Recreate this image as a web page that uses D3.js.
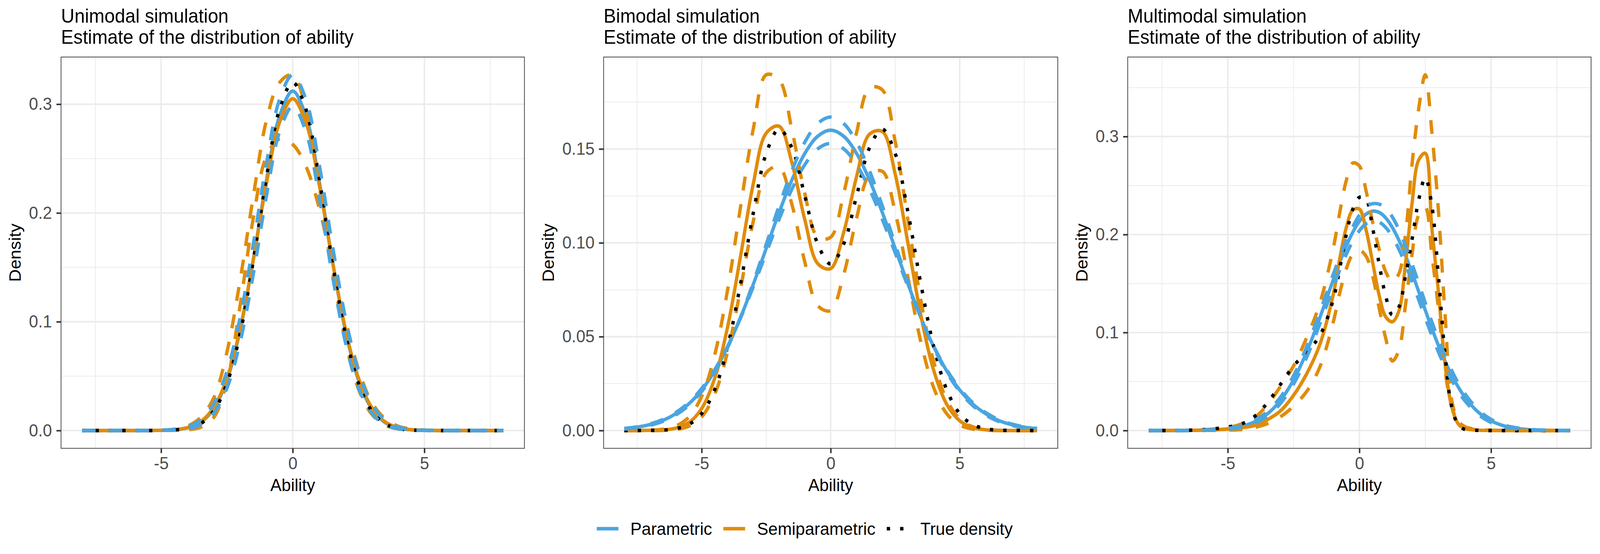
<!DOCTYPE html>
<html>
<head>
<meta charset="utf-8">
<script src="https://cdn.jsdelivr.net/npm/d3@7"></script>
<style>
  html, body { margin: 0; padding: 0; background: #fff; overflow: hidden; }
  svg { display: block; width: 100vw; height: 100vh; }
  text { font-family: "Liberation Sans", Arial, Helvetica, sans-serif; }
</style>
</head>
<body>
<svg id="chart" viewBox="0 0 4256 1418" preserveAspectRatio="none"></svg>
<script>
// ability grids (x values the densities were evaluated at)
abilityGrid = [-8, -7.5, -7, -6.5, -6, -5.5, -5, -4.5, -4, -3.5, -3, -2.5, -2, -1.5, -1, -0.5, 0,
  0.5, 1, 1.5, 2, 2.5, 3, 3.5, 4, 4.5, 5, 5.5, 6, 6.5, 7, 7.5, 8]
abilityMulti = [-8, -7.5, -7, -6.5, -6, -5.5, -5, -4.5, -4, -3.5, -3, -2.5, -2, -1.5,
  -1, -0.75, -0.5, -0.25, 0, 0.25, 0.5, 0.75, 1, 1.25, 1.5, 1.75, 2, 2.25, 2.5, 2.75, 3, 3.25, 3.5, 3.75, 4,
  4.5, 5, 5.5, 6, 6.5, 7, 7.5, 8]

// unimodal simulation
uniParametric = [0, 0, 0, 0, 0, 0, 0.0002, 0.0006, 0.0024, 0.0074, 0.0200, 0.0463, 0.0920, 0.1570, 0.2299, 0.2891, 0.3120,
  0.2891, 0.2299, 0.1570, 0.0920, 0.0463, 0.0200, 0.0074, 0.0024, 0.0006, 0.0002, 0, 0, 0, 0, 0, 0]
uniParametricLower = [0, 0, 0, 0, 0, 0, 0.0001, 0.0004, 0.0016, 0.0055, 0.0160, 0.0390, 0.0812, 0.1434, 0.2153, 0.2747, 0.2980,
  0.2747, 0.2153, 0.1434, 0.0812, 0.0390, 0.0160, 0.0055, 0.0016, 0.0004, 0.0001, 0, 0, 0, 0, 0, 0]
uniParametricUpper = [0, 0, 0, 0, 0, 0.0001, 0.0003, 0.0010, 0.0033, 0.0097, 0.0247, 0.0544, 0.1038, 0.1714, 0.2454, 0.3044, 0.3270,
  0.3044, 0.2454, 0.1714, 0.1038, 0.0544, 0.0247, 0.0097, 0.0033, 0.0010, 0.0003, 0.0001, 0, 0, 0, 0, 0]
uniSemi = [0, 0, 0, 0, 0, 0, 0.0002, 0.0008, 0.0027, 0.0081, 0.0213, 0.0480, 0.0934, 0.1567, 0.2269, 0.2833, 0.3050,
  0.2833, 0.2269, 0.1567, 0.0934, 0.0480, 0.0213, 0.0081, 0.0027, 0.0008, 0.0002, 0, 0, 0, 0, 0, 0]
uniSemiLower = [0, 0, 0, 0, 0, 0, 0.0001, 0.0003, 0.0008, 0.003, 0.012, 0.045, 0.115, 0.195, 0.252, 0.268, 0.263,
  0.243, 0.205, 0.152, 0.102, 0.056, 0.026, 0.011, 0.004, 0.0015, 0.0005, 0.0002, 0.0001, 0, 0, 0, 0]
uniSemiUpper = [0, 0, 0, 0, 0, 0.0001, 0.0003, 0.0012, 0.004, 0.012, 0.030, 0.072, 0.138, 0.215, 0.285, 0.320, 0.327,
  0.295, 0.225, 0.148, 0.082, 0.038, 0.015, 0.005, 0.0015, 0.0004, 0.0001, 0, 0, 0, 0, 0, 0]
uniTrue = [0, 0, 0, 0, 0, 0, 0.0001, 0.0005, 0.0019, 0.0063, 0.0180, 0.0433, 0.0890, 0.1558, 0.2324, 0.2954, 0.3200,
  0.2954, 0.2324, 0.1558, 0.0890, 0.0433, 0.0180, 0.0063, 0.0019, 0.0005, 0.0001, 0, 0, 0, 0, 0, 0]

// bimodal simulation
biParametric = [0.0010, 0.0018, 0.0032, 0.0054, 0.0090, 0.0142, 0.0216, 0.0317, 0.0445, 0.0600, 0.0779, 0.0970, 0.1162, 0.1336, 0.1477, 0.1568, 0.1600,
  0.1568, 0.1477, 0.1336, 0.1162, 0.0970, 0.0779, 0.0600, 0.0445, 0.0317, 0.0216, 0.0142, 0.0090, 0.0054, 0.0032, 0.0018, 0.0010]
biParametricLower = [0.0011, 0.0020, 0.0035, 0.0059, 0.0096, 0.0149, 0.0224, 0.0323, 0.0447, 0.0597, 0.0766, 0.0946, 0.1125, 0.1287, 0.1417, 0.1501, 0.1530,
  0.1501, 0.1417, 0.1287, 0.1125, 0.0946, 0.0766, 0.0597, 0.0447, 0.0323, 0.0224, 0.0149, 0.0096, 0.0059, 0.0035, 0.0020, 0.0011]
biParametricUpper = [0.0008, 0.0015, 0.0028, 0.0049, 0.0083, 0.0134, 0.0208, 0.0309, 0.0440, 0.0602, 0.0789, 0.0992, 0.1197, 0.1385, 0.1537, 0.1636, 0.1670,
  0.1636, 0.1537, 0.1385, 0.1197, 0.0992, 0.0789, 0.0602, 0.0440, 0.0309, 0.0208, 0.0134, 0.0083, 0.0049, 0.0028, 0.0015, 0.0008]
biSemi = [0, 0, 0.0001, 0.0003, 0.0013, 0.0042, 0.0117, 0.0276, 0.0549, 0.0924, 0.1315, 0.1584, 0.1621, 0.1425, 0.1121, 0.0889, 0.0863,
  0.1054, 0.1351, 0.1578, 0.1593, 0.1366, 0.0993, 0.0610, 0.0317, 0.0139, 0.0052, 0.0016, 0.0004, 0.0001, 0, 0, 0]
biSemiLower = [0, 0, 0, 0.0001, 0.0006, 0.0023, 0.0073, 0.0192, 0.0417, 0.0750, 0.1115, 0.1373, 0.1405, 0.1203, 0.0896, 0.0665, 0.0639,
  0.0829, 0.1129, 0.1361, 0.1381, 0.1163, 0.0812, 0.0469, 0.0225, 0.0089, 0.0029, 0.0008, 0.0002, 0, 0, 0, 0]
biSemiUpper = [0, 0, 0.0002, 0.0007, 0.0024, 0.0071, 0.0182, 0.0400, 0.0746, 0.1186, 0.1607, 0.1895, 0.1870, 0.1600, 0.1260, 0.1030, 0.1030,
  0.1260, 0.1585, 0.1825, 0.1815, 0.1540, 0.1115, 0.0690, 0.0363, 0.0163, 0.0062, 0.0020, 0.0006, 0.0001, 0, 0, 0]
biTrue = [0, 0, 0.0001, 0.0002, 0.0010, 0.0032, 0.0090, 0.0216, 0.0444, 0.0777, 0.1159, 0.1476, 0.1606, 0.1505, 0.1248, 0.0993, 0.0887,
  0.0993, 0.1248, 0.1505, 0.1606, 0.1476, 0.1159, 0.0777, 0.0444, 0.0216, 0.0090, 0.0032, 0.0010, 0.0002, 0.0001, 0, 0]

// multimodal simulation
multiParametric = [0, 0, 0, 0.0001, 0.0003, 0.0007, 0.0017, 0.0040, 0.0086, 0.0169, 0.0307, 0.0517, 0.0803, 0.1154,
  0.1534, 0.1716, 0.1882, 0.2025, 0.2136, 0.2208, 0.2239, 0.2226, 0.2170, 0.2073, 0.1943, 0.1785, 0.1608, 0.1420, 0.1230, 0.1044, 0.0869, 0.0709, 0.0568, 0.0446, 0.0343,
  0.0191, 0.0099, 0.0047, 0.0021, 0.0008, 0.0003, 0.0001, 0]
multiParametricLower = [0, 0, 0, 0.0001, 0.0002, 0.0005, 0.0013, 0.0032, 0.0072, 0.0148, 0.0276, 0.0475, 0.0750, 0.1090,
  0.1458, 0.1635, 0.1795, 0.1935, 0.2040, 0.2110, 0.2140, 0.2128, 0.2072, 0.1978, 0.1850, 0.1695, 0.1520, 0.1335, 0.1150, 0.0970, 0.0802, 0.0650, 0.0517, 0.0402, 0.0306,
  0.0166, 0.0083, 0.0038, 0.0016, 0.0006, 0.0002, 0.0001, 0]
multiParametricUpper = [0, 0, 0, 0.0001, 0.0004, 0.0009, 0.0021, 0.0048, 0.0100, 0.0192, 0.0340, 0.0560, 0.0855, 0.1210,
  0.1590, 0.1770, 0.1935, 0.2080, 0.2200, 0.2290, 0.2315, 0.2310, 0.2270, 0.2180, 0.2050, 0.1885, 0.1700, 0.1505, 0.1305, 0.1110, 0.0930, 0.0765, 0.0615, 0.0487, 0.0378,
  0.0215, 0.0114, 0.0056, 0.0026, 0.0011, 0.0004, 0.0001, 0]
multiSemi = [0, 0, 0.0001, 0.0002, 0.0004, 0.0008, 0.0014, 0.0028, 0.005, 0.011, 0.020, 0.036, 0.058, 0.088,
  0.138, 0.175, 0.207, 0.225, 0.226, 0.205, 0.172, 0.138, 0.116, 0.111, 0.122, 0.170, 0.232, 0.276, 0.283, 0.207, 0.142, 0.068, 0.025, 0.007, 0.002,
  0.0004, 0.0001, 0, 0, 0, 0, 0, 0]
multiSemiLower = [0, 0, 0, 0, 0.0001, 0.0002, 0.0005, 0.001, 0.003, 0.007, 0.014, 0.025, 0.040, 0.065,
  0.110, 0.140, 0.165, 0.180, 0.184, 0.178, 0.158, 0.125, 0.094, 0.071, 0.082, 0.128, 0.180, 0.220, 0.228, 0.180, 0.125, 0.062, 0.025, 0.009, 0.003,
  0.0008, 0.0002, 0, 0, 0, 0, 0, 0]
multiSemiUpper = [0, 0, 0.0001, 0.0003, 0.0008, 0.0016, 0.003, 0.0065, 0.013, 0.026, 0.045, 0.066, 0.095, 0.130,
  0.185, 0.222, 0.255, 0.273, 0.270, 0.245, 0.213, 0.185, 0.162, 0.152, 0.160, 0.200, 0.272, 0.328, 0.363, 0.305, 0.225, 0.120, 0.032, 0.010, 0.004,
  0.0012, 0.0003, 0.0001, 0, 0, 0, 0, 0]
multiTrue = [0, 0, 0.0001, 0.0003, 0.0008, 0.0018, 0.0036, 0.0065, 0.014, 0.028, 0.047, 0.066, 0.080, 0.097,
  0.133, 0.165, 0.200, 0.226, 0.238, 0.236, 0.207, 0.170, 0.137, 0.118, 0.126, 0.158, 0.195, 0.235, 0.258, 0.230, 0.158, 0.078, 0.025, 0.006, 0.0012,
  0.0002, 0, 0, 0, 0, 0, 0, 0]

// ticks
xTicks = [-5, 0, 5]
xTickLabels = ['-5', '0', '5']
uniYTicks = [0, 0.1, 0.2, 0.3]
uniYLabels = ['0.0', '0.1', '0.2', '0.3']
biYTicks = [0, 0.05, 0.10, 0.15]
biYLabels = ['0.00', '0.05', '0.10', '0.15']
multiYTicks = [0, 0.1, 0.2, 0.3]
multiYLabels = ['0.0', '0.1', '0.2', '0.3']

methods = ['Parametric', 'Semiparametric', 'True density']
colours = { 'Parametric': '#4aa5e0', 'Semiparametric': '#e08c0a', 'True density': '#000000' }
dashes = { estimate: null, ci: '35.6,35.6', truth: '8.9,26.7' }

panels = [
  { title: 'Unimodal simulation', ability: abilityGrid, yTicks: uniYTicks, yLabels: uniYLabels,
    series: [
      [uniParametric, 'Parametric', 'estimate'],
      [uniSemi, 'Semiparametric', 'estimate'],
      [uniSemiLower, 'Semiparametric', 'ci'],
      [uniSemiUpper, 'Semiparametric', 'ci'],
      [uniTrue, 'True density', 'truth'],
      [uniParametricLower, 'Parametric', 'ci'],
      [uniParametricUpper, 'Parametric', 'ci']
    ] },
  { title: 'Bimodal simulation', ability: abilityGrid, yTicks: biYTicks, yLabels: biYLabels,
    series: [
      [biParametric, 'Parametric', 'estimate'],
      [biSemi, 'Semiparametric', 'estimate'],
      [biSemiLower, 'Semiparametric', 'ci'],
      [biSemiUpper, 'Semiparametric', 'ci'],
      [biTrue, 'True density', 'truth'],
      [biParametricLower, 'Parametric', 'ci'],
      [biParametricUpper, 'Parametric', 'ci']
    ] },
  { title: 'Multimodal simulation', ability: abilityMulti, yTicks: multiYTicks, yLabels: multiYLabels,
    series: [
      [multiParametric, 'Parametric', 'estimate'],
      [multiSemi, 'Semiparametric', 'estimate'],
      [multiSemiLower, 'Semiparametric', 'ci'],
      [multiSemiUpper, 'Semiparametric', 'ci'],
      [multiTrue, 'True density', 'truth'],
      [multiParametricLower, 'Parametric', 'ci'],
      [multiParametricUpper, 'Parametric', 'ci']
    ] }
]

W = 4256
H = 1418
subWidth = W / 3
panelTop = 146
panelBottom = 1147.5
lineWidth = 8.9

svg = d3.select('#chart')
svg.append('rect').attr('width', W).attr('height', H).attr('fill', '#fff')

function textWidth(str, size) {
  t = svg.append('text').attr('font-size', size).text(str)
  w = t.node().getComputedTextLength()
  t.remove()
  return w
}

function minorsOf(ticks, domain) {
  step = ticks[1] - ticks[0]
  out = []
  for (v = ticks[0] - step / 2; v <= ticks[ticks.length - 1] + step / 2 + 1e-9; v += step) {
    if (v >= domain[0] && v <= domain[1]) out.push(v)
  }
  return out
}

panels.forEach(function(p, k) {
  subLeft = k * subWidth
  labelW = d3.max(p.yLabels, function(l) { return textWidth(l, 44.2) })
  left = subLeft + 77 + labelW + 24
  right = subLeft + subWidth - 23.7

  xExtent = d3.extent(p.ability)
  xPad = (xExtent[1] - xExtent[0]) * 0.05
  x = d3.scaleLinear()
        .domain([xExtent[0] - xPad, xExtent[1] + xPad])
        .range([left, right])

  yMax = d3.max(p.series, function(s) { return d3.max(s[0]) })
  y = d3.scaleLinear()
        .domain([-0.05 * yMax, 1.05 * yMax])
        .range([panelBottom, panelTop])

  g = svg.append('g')

  // grid
  grid = g.append('g')
  grid.selectAll('.xminor')
      .data(minorsOf(xTicks, x.domain()))
      .enter().append('line')
      .attr('x1', function(d) { return x(d) }).attr('x2', function(d) { return x(d) })
      .attr('y1', panelTop).attr('y2', panelBottom)
      .attr('stroke', '#ebebeb').attr('stroke-width', 2)
  grid.selectAll('.yminor')
      .data(minorsOf(p.yTicks, y.domain()))
      .enter().append('line')
      .attr('y1', function(d) { return y(d) }).attr('y2', function(d) { return y(d) })
      .attr('x1', left).attr('x2', right)
      .attr('stroke', '#ebebeb').attr('stroke-width', 2)
  grid.selectAll('.xmajor')
      .data(xTicks)
      .enter().append('line')
      .attr('x1', function(d) { return x(d) }).attr('x2', function(d) { return x(d) })
      .attr('y1', panelTop).attr('y2', panelBottom)
      .attr('stroke', '#ebebeb').attr('stroke-width', 3.9)
  grid.selectAll('.ymajor')
      .data(p.yTicks)
      .enter().append('line')
      .attr('y1', function(d) { return y(d) }).attr('y2', function(d) { return y(d) })
      .attr('x1', left).attr('x2', right)
      .attr('stroke', '#ebebeb').attr('stroke-width', 3.9)

  // density lines
  line = d3.line()
           .x(function(d) { return x(d[0]) })
           .y(function(d) { return y(d[1]) })
           .curve(d3.curveCatmullRom.alpha(0.5))

  g.append('g').selectAll('path')
   .data(p.series)
   .enter().append('path')
   .attr('d', function(s) { return line(p.ability.map(function(a, i) { return [a, s[0][i]] })) })
   .attr('fill', 'none')
   .attr('stroke', function(s) { return colours[s[1]] })
   .attr('stroke-width', lineWidth)
   .attr('stroke-linejoin', 'round')
   .attr('stroke-linecap', 'butt')
   .attr('stroke-dasharray', function(s) { return dashes[s[2]] })

  // border
  g.append('rect')
   .attr('x', left).attr('y', panelTop)
   .attr('width', right - left).attr('height', panelBottom - panelTop)
   .attr('fill', 'none').attr('stroke', '#333333').attr('stroke-width', 1.8)

  // axes
  yAxis = g.append('g')
           .attr('transform', 'translate(' + left + ',0)')
           .call(d3.axisLeft(y)
                   .tickValues(p.yTicks)
                   .tickFormat(function(d, i) { return p.yLabels[i] })
                   .tickSizeInner(12.3).tickSizeOuter(0).tickPadding(11.7))
  xAxis = g.append('g')
           .attr('transform', 'translate(0,' + panelBottom + ')')
           .call(d3.axisBottom(x)
                   .tickValues(xTicks)
                   .tickFormat(function(d, i) { return xTickLabels[i] })
                   .tickSizeInner(12.3).tickSizeOuter(0).tickPadding(9.7))
  ;[yAxis, xAxis].forEach(function(a) {
    a.select('.domain').remove()
    a.attr('font-family', null).attr('font-size', 44.2)
    a.selectAll('.tick line').attr('stroke', '#333333').attr('stroke-width', 3.9)
    a.selectAll('.tick text').attr('fill', '#4d4d4d')
  })

  // axis titles
  g.append('text')
   .attr('x', (left + right) / 2).attr('y', 1256.7)
   .attr('text-anchor', 'middle').attr('font-size', 44.8).attr('fill', '#000')
   .text('Ability')
  g.append('text')
   .attr('transform', 'translate(' + (subLeft + 55) + ',' + ((panelTop + panelBottom) / 2) + ') rotate(-90)')
   .attr('text-anchor', 'middle').attr('font-size', 44.8).attr('fill', '#000')
   .text('Density')

  // title
  title = g.append('text').attr('font-size', 49.5).attr('fill', '#000')
  title.append('tspan').attr('x', left).attr('y', 58.3).text(p.title)
  title.append('tspan').attr('x', left).attr('y', 111.7).text('Estimate of the distribution of ability')
})

// legend
legend = svg.append('g')
legendX = 1587.3
legendY = 1353.3
methods.forEach(function(m) {
  item = legend.append('g')
  item.append('line')
      .attr('x1', legendX).attr('x2', legendX + 57.7)
      .attr('y1', legendY).attr('y2', legendY)
      .attr('stroke', colours[m]).attr('stroke-width', lineWidth)
      .attr('stroke-dasharray', m == 'True density' ? dashes.truth : null)
  label = item.append('text')
      .attr('x', legendX + 89.4).attr('y', legendY + 16.2)
      .attr('font-size', 45).attr('fill', '#000')
      .text(m)
  legendX = legendX + 89.4 + label.node().getComputedTextLength() + 30
})
</script>
</body>
</html>
